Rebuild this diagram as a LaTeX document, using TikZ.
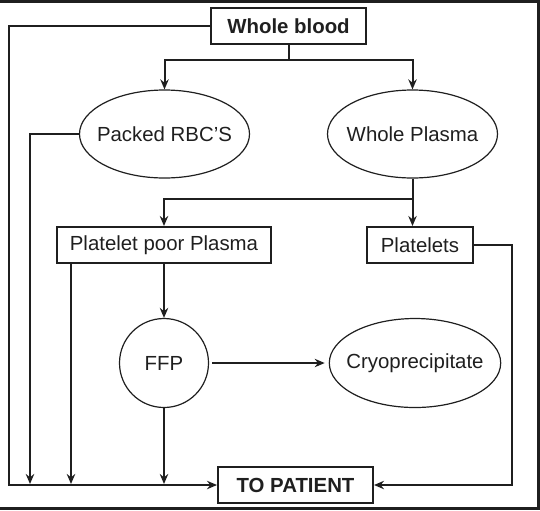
\documentclass[tikz,border=0pt]{standalone}
\usepackage{fontspec}
\setmainfont{Liberation Sans}
\usetikzlibrary{arrows.meta,shapes.geometric}
\begin{document}
\begin{tikzpicture}[x=0.5pt,y=-0.5pt,line width=1pt,draw=black!88,
  every node/.style={inner sep=0pt,font=\fontsize{10.2}{12}\selectfont,text=black!88},
  box/.style={draw,rectangle,minimum height=18pt},
  oval/.style={draw,ellipse,line width=0.6pt,inner xsep=-4pt,minimum width=85pt,minimum height=44pt},
  arr/.style={-{Stealth[length=5pt,width=4.2pt]}}]
\useasboundingbox (0,0) rectangle (540,510);
\draw[line width=1.5pt] (0,1) -- (538.5,1) -- (538.5,508.5) -- (0,508.5);
\node[box,minimum width=77.5pt,font=\fontsize{10.2}{12}\bfseries] (blood) at (288.5,26) {Whole blood};
\node[oval] (rbc) at (164.5,134) {Packed RBC'S};\node[oval] (plasma) at (412.5,134) {Whole Plasma};
\node[box,minimum width=107pt] (ppp) at (164,245) {Platelet poor Plasma};\node[box,minimum width=53pt] (plt) at (420,245) {Platelets};
\node[draw,circle,line width=0.6pt,minimum size=44.5pt] (ffp) at (164,363) {FFP};
\node[oval,minimum height=44.5pt] (cryo) at (415,363) {Cryoprecipitate};
\node[box,minimum width=77.5pt,font=\fontsize{10.2}{12}\bfseries] (pat) at (295.5,485) {TO PATIENT};
\coordinate (s1) at (288.5,60);\coordinate (s2) at (412.5,199);
\coordinate (l0) at (9,485);\coordinate (l1) at (30,484);\coordinate (l2) at (71,484);\coordinate (l3) at (164,484);\coordinate (r0) at (512,485);
\draw[arr] (blood.west) -| (l0) -- (pat.west);
\draw (blood.south) -- (s1);\draw[arr] (s1) -| (rbc.north);\draw[arr] (s1) -| (plasma.north);
\draw[arr] (rbc.west) -| (l1);
\draw[arr] (plasma.south) -- (plasma.south |- plt.north);\draw[arr] (s2) -| (ppp.north);
\draw[arr] (plt.east) -| (r0) -- (pat.east);
\draw[arr] (ppp.south -| l2) -- (l2);\draw[arr] (ppp.south) -- (ffp.north);
\draw[arr,shorten <=1.5pt,shorten >=2pt] (ffp.east) -- (cryo.west);
\draw[arr] (ffp.south) -- (l3);
\end{tikzpicture}
\end{document}
